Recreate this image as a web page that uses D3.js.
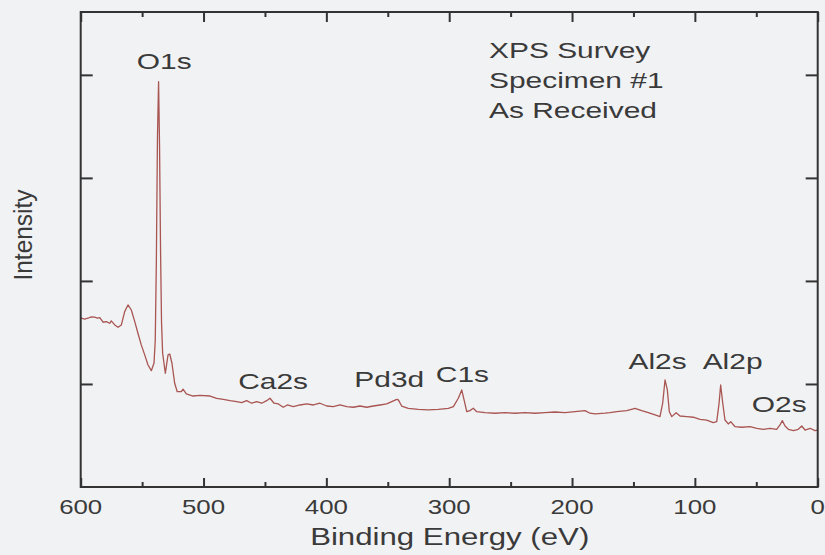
<!DOCTYPE html>
<html>
<head>
<meta charset="utf-8">
<script src="https://cdn.jsdelivr.net/npm/d3@7/dist/d3.min.js"></script>
<style>
  html, body { margin: 0; padding: 0; background: #f1f2f4; }
  svg { display: block; }
  text { font-family: "Liberation Sans", Arial, sans-serif; fill: #3a3a3a; }
</style>
</head>
<body>
<svg id="chart" width="825" height="555"></svg>
<script>
// ---- Data ----
const bindingEnergy = [
  600.0, 599.5, 596.8, 594.1, 591.4, 588.6, 586.5, 584.5, 581.8, 579.2,
  576.4, 575.1, 572.3, 569.6, 566.9, 564.2, 561.5, 558.8, 556.0, 553.4,
  550.7, 547.9, 545.2, 542.5, 540.3, 539.3, 538.4, 537.5, 536.6, 535.8,
  535.0, 534.2, 533.3, 531.1, 528.9, 527.5, 525.7, 523.5, 521.4, 518.1,
  516.7, 514.0, 508.6, 502.9, 494.7, 489.3, 483.9, 478.4, 473.0, 468.9,
  464.9, 460.8, 456.7, 452.6, 448.6, 445.9, 442.6, 439.1, 435.1, 431.8,
  426.9, 421.5, 416.0, 410.6, 405.2, 399.7, 394.4, 388.9, 383.4, 378.1,
  372.6, 367.2, 361.8, 356.3, 350.9, 346.8, 342.7, 341.4, 338.7, 333.3,
  325.1, 317.0, 308.9, 300.7, 296.6, 292.6, 289.8, 287.9, 285.7, 283.1,
  280.4, 277.6, 270.8, 262.7, 254.6, 246.4, 238.3, 230.1, 222.0, 213.9,
  205.7, 197.6, 189.4, 185.4, 181.3, 173.1, 169.1, 163.6, 155.5, 148.7,
  143.3, 137.9, 132.4, 128.4, 126.2, 124.3, 122.4, 120.8, 118.8, 115.3,
  112.1, 106.6, 101.3, 95.8, 90.4, 85.0, 82.2, 80.3, 79.0, 77.3,
  75.5, 72.8, 70.8, 67.3, 61.9, 55.1, 49.6, 44.3, 38.8, 33.4,
  30.7, 28.8, 26.6, 23.9, 19.8, 15.8, 13.0, 10.3, 6.2, 2.2,
  0.0
];
const intensity = [
  1.640, 1.638, 1.630, 1.638, 1.652, 1.648, 1.640, 1.644, 1.599, 1.605,
  1.589, 1.612, 1.573, 1.550, 1.573, 1.702, 1.767, 1.718, 1.605, 1.492,
  1.379, 1.282, 1.184, 1.129, 1.204, 1.427, 2.200, 3.400, 3.935, 3.300,
  2.300, 1.600, 1.300, 1.104, 1.282, 1.291, 1.201, 1.007, 0.925, 0.925,
  0.949, 0.903, 0.883, 0.890, 0.883, 0.861, 0.851, 0.838, 0.828, 0.818,
  0.838, 0.813, 0.828, 0.813, 0.838, 0.861, 0.813, 0.806, 0.774, 0.796,
  0.780, 0.796, 0.806, 0.796, 0.813, 0.786, 0.780, 0.796, 0.780, 0.774,
  0.786, 0.774, 0.786, 0.796, 0.806, 0.828, 0.851, 0.845, 0.786, 0.764,
  0.754, 0.748, 0.754, 0.764, 0.780, 0.861, 0.942, 0.845, 0.731, 0.741,
  0.764, 0.731, 0.721, 0.716, 0.721, 0.716, 0.721, 0.716, 0.721, 0.728,
  0.721, 0.731, 0.741, 0.716, 0.709, 0.716, 0.721, 0.731, 0.741, 0.764,
  0.741, 0.721, 0.699, 0.683, 0.813, 1.039, 0.942, 0.731, 0.683, 0.721,
  0.689, 0.683, 0.677, 0.657, 0.650, 0.624, 0.634, 0.813, 0.990, 0.813,
  0.650, 0.612, 0.634, 0.585, 0.580, 0.585, 0.570, 0.560, 0.570, 0.560,
  0.602, 0.644, 0.592, 0.560, 0.547, 0.560, 0.592, 0.553, 0.570, 0.547,
  0.553
];
const xMajorTicks = [600, 500, 400, 300, 200, 100, 0];
const xMinorTicks = [550, 450, 350, 250, 150, 50];
const yMajorTicks = [1, 2, 3, 4];
const peakNames = ["O1s", "Ca2s", "Pd3d", "C1s", "Al2s", "Al2p", "O2s"];
const peakLabelBE = [532.0, 443.4, 348.8, 289.2, 130.4, 69.3, 31.3];
const peakLabelY = [4.058, 0.949, 0.974, 1.017, 1.146, 1.146, 0.731];
const infoLines = ["XPS Survey", "Specimen #1", "As Received"];
const xTitle = "Binding Energy (eV)";
const yTitle = "Intensity";

// ---- Layout ----
const svg = d3.select("#chart");
const mLeft = 80.7, mRight = 817.7, mTop = 12, mBottom = 487;
const x = d3.scaleLinear().domain([600, 0]).range([mLeft, mRight]);
const y = d3.scaleLinear().domain([0, 4.61]).range([mBottom, mTop]);
const axisColor = "#333";

function stretchedText(parent, str, tx, ty, size, sx, anchor, rot) {
  return parent.append("text")
    .attr("transform", `translate(${tx},${ty}) scale(${sx},1)` + (rot ? ` rotate(${rot})` : ""))
    .attr("text-anchor", anchor)
    .style("font-size", size + "px")
    .text(str);
}

// Spectrum line
const pts = bindingEnergy.map((b, i) => [b, intensity[i]]);
svg.append("path")
  .datum(pts)
  .attr("fill", "none")
  .attr("stroke", "#a95552")
  .attr("stroke-width", 1.3)
  .attr("stroke-linejoin", "round")
  .attr("d", d3.line().x(d => x(d[0])).y(d => y(d[1])));

// Axes (ticks inward)
function styleAxis(g) {
  g.select(".domain").remove();
  g.selectAll(".tick line").attr("stroke", axisColor).attr("stroke-width", 2);
  g.selectAll(".tick text").remove();
}
svg.append("g").attr("transform", `translate(0,${mBottom})`)
  .call(d3.axisBottom(x).tickValues(xMajorTicks).tickSize(-9).tickSizeOuter(0)).call(styleAxis);
svg.append("g").attr("transform", `translate(0,${mBottom})`)
  .call(d3.axisBottom(x).tickValues(xMinorTicks).tickSize(-5).tickSizeOuter(0)).call(styleAxis);
svg.append("g").attr("transform", `translate(0,${mTop})`)
  .call(d3.axisTop(x).tickValues(xMajorTicks).tickSize(-10).tickSizeOuter(0)).call(styleAxis);
svg.append("g").attr("transform", `translate(0,${mTop})`)
  .call(d3.axisTop(x).tickValues(xMinorTicks).tickSize(-5).tickSizeOuter(0)).call(styleAxis);
svg.append("g").attr("transform", `translate(${mLeft},0)`)
  .call(d3.axisLeft(y).tickValues(yMajorTicks).tickSize(-12).tickSizeOuter(0)).call(styleAxis);
svg.append("g").attr("transform", `translate(${mRight},0)`)
  .call(d3.axisRight(y).tickValues(yMajorTicks).tickSize(-12).tickSizeOuter(0)).call(styleAxis);

svg.append("rect")
  .attr("x", mLeft).attr("y", mTop)
  .attr("width", mRight - mLeft).attr("height", mBottom - mTop)
  .attr("fill", "none").attr("stroke", axisColor).attr("stroke-width", 2);

// Tick labels
xMajorTicks.forEach(v => stretchedText(svg, String(v), x(v), 513.5, 21, 1.23, "middle"));

// Axis titles
stretchedText(svg, xTitle, (mLeft + mRight) / 2 + 0.5, 545, 24, 1.3, "middle");
stretchedText(svg, yTitle, 31.5, 235, 24.5, 1.05, "middle", -90);

// Peak labels
peakNames.forEach((n, i) => stretchedText(svg, n, x(peakLabelBE[i]), y(peakLabelY[i]), 22, 1.36, "middle"));

// Info block
infoLines.forEach((t, i) => stretchedText(svg, t, 489, 57.7 + i * 30, 22, 1.36, "start"));
</script>
</body>
</html>
